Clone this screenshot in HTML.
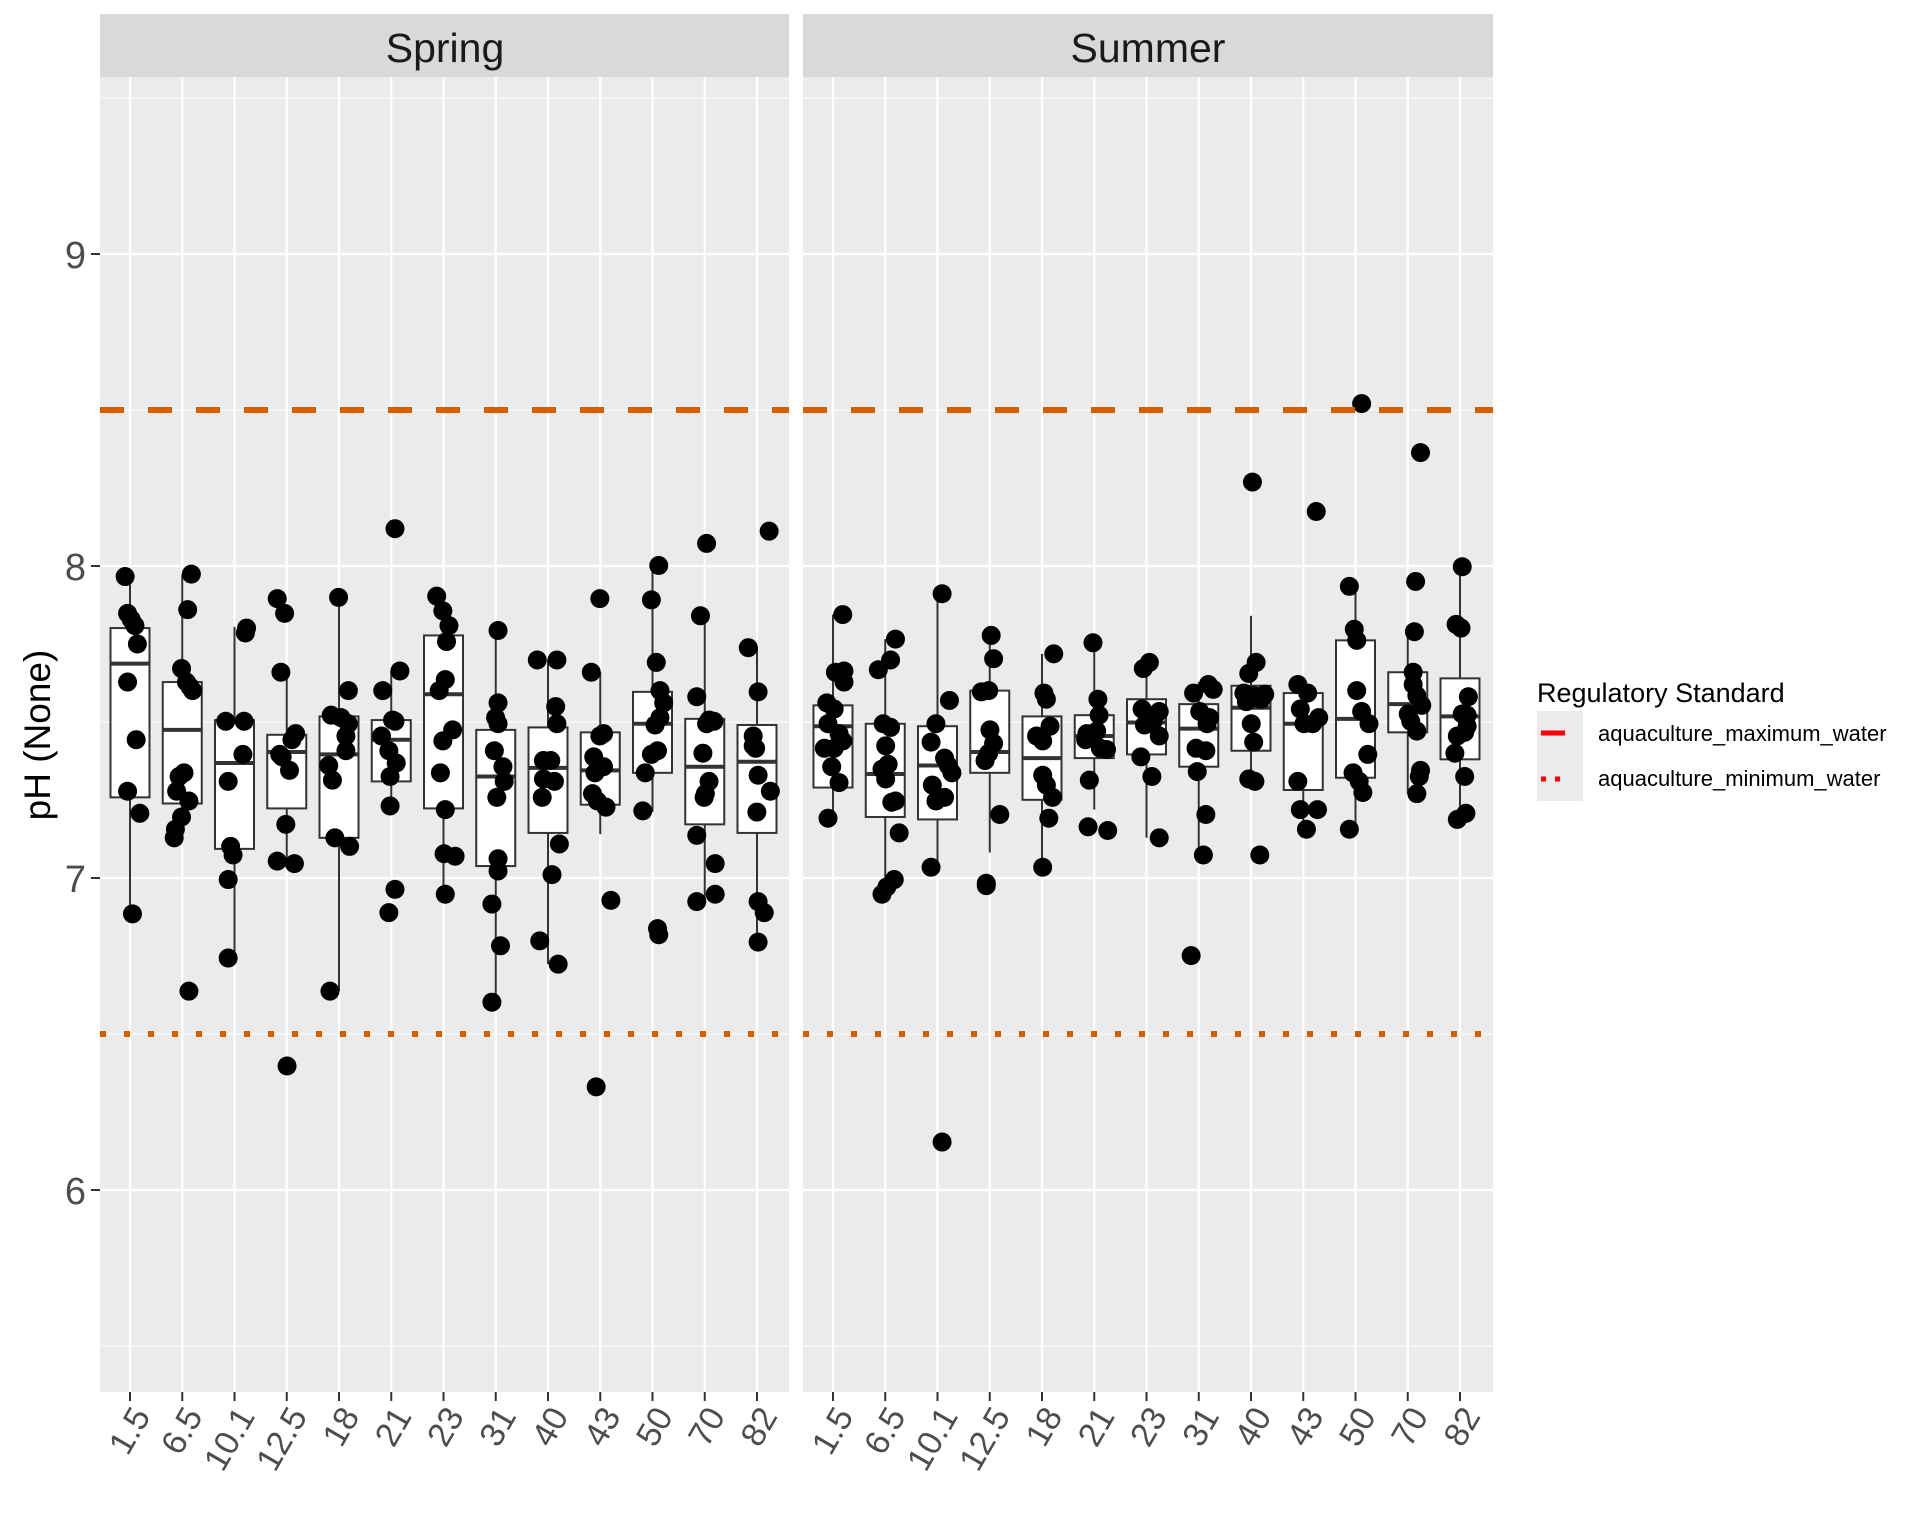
<!DOCTYPE html>
<html><head><meta charset="utf-8"><style>
html,body{margin:0;padding:0;background:#fff;}
svg{display:block;font-family:"Liberation Sans",Arial,sans-serif;}
</style></head><body>
<svg id="s" width="1920" height="1536" viewBox="0 0 1920 1536" xmlns="http://www.w3.org/2000/svg">
<rect x="0" y="0" width="1920" height="1536" fill="#fff"/>
<g id="panels"></g>
<rect x="100" y="14" width="689" height="63" fill="#D9D9D9"/>
<rect x="803" y="14" width="690" height="63" fill="#D9D9D9"/>
<text x="445" y="62" font-size="41" text-anchor="middle" fill="#1A1A1A">Spring</text>
<text x="1148" y="62" font-size="41" text-anchor="middle" fill="#1A1A1A">Summer</text>
<g font-size="38" fill="#4D4D4D" text-anchor="end">
<text x="86" y="268">9</text>
<text x="86" y="580">8</text>
<text x="86" y="892">7</text>
<text x="86" y="1204">6</text>
</g>
<g stroke="#333" stroke-width="2">
<line x1="91" y1="254" x2="100" y2="254"/><line x1="91" y1="566" x2="100" y2="566"/>
<line x1="91" y1="878" x2="100" y2="878"/><line x1="91" y1="1190" x2="100" y2="1190"/>
</g>
<text transform="translate(50,735) rotate(-90)" font-size="37" text-anchor="middle" fill="#000">pH (None)</text>
<g id="xlabs" font-size="34" fill="#4D4D4D"></g>
<text x="1537" y="702" font-size="27" fill="#000">Regulatory Standard</text>
<rect x="1537" y="711" width="46" height="90" fill="#EBEBEB"/>
<line x1="1541" y1="733" x2="1565" y2="733" stroke="#FF0000" stroke-width="5"/>
<line x1="1541" y1="779" x2="1566" y2="779" stroke="#FF0000" stroke-width="5" stroke-dasharray="5,9"/>
<text x="1598" y="741" font-size="22" fill="#000">aquaculture_maximum_water</text>
<text x="1598" y="786" font-size="22" fill="#000">aquaculture_minimum_water</text>
</svg>
<script>
const NS="http://www.w3.org/2000/svg";
const S=1.2267;
const g=document.getElementById('panels');
function el(t,a,p){const e=document.createElementNS(NS,t);for(const k in a)e.setAttribute(k,a[k]);(p||g).appendChild(e);return e;}
const Y=v=>566-(v-8)*312;
const labels=["1.5","6.5","10.1","12.5","18","21","23","31","40","43","50","70","82"];
const panels=[{x0:100,x1:789,t0:130},{x0:803,x1:1493,t0:833}];
const sp=52.25;
const D=[
[[512,541,650,468,745],[[102,470],[104,500],[107,505],[110,510],[112,525],[104,556],[111,603],[114,663],[104,645],[108,745]]],
[[556,595,655,468,683],[[156,468],[153,497],[148,545],[152,556],[155,560],[157,563],[146,633],[144,645],[150,630],[154,653],[148,666],[143,676],[142,683],[154,808]]],
[[587,622,692,511,782],[[184,588],[199,588],[201,512],[200,516],[186,637],[188,690],[190,697],[186,717],[186,781],[198,615]]],
[[599,613,659,543,704],[[226,488],[232,500],[229,548],[241,598],[238,603],[228,615],[236,628],[230,617],[233,672],[226,702],[240,704],[234,869]]],
[[584,615,683,487,808],[[276,487],[270,583],[282,600],[284,590],[268,624],[271,636],[282,612],[273,683],[285,690],[284,563],[269,808],[278,585]]],
[[587,603,637,547,663],[[322,431],[326,547],[312,563],[322,588],[320,587],[317,612],[323,622],[318,633],[318,657],[322,725],[317,744],[311,600]]],
[[518,566,659,486,729],[[356,486],[361,498],[366,510],[364,523],[363,554],[358,563],[369,595],[361,604],[359,630],[363,660],[362,696],[371,698],[363,729]]],
[[595,633,706,514,818],[[406,514],[406,573],[404,585],[406,590],[403,612],[410,625],[411,637],[405,650],[406,700],[406,710],[401,737],[408,771],[401,817]]],
[[593,626,679,538,786],[[438,538],[454,538],[453,576],[454,590],[443,620],[443,635],[449,620],[452,637],[442,650],[456,688],[450,713],[440,767],[455,786]]],
[[597,628,656,548,680],[[489,488],[482,548],[489,600],[492,598],[484,617],[485,630],[492,625],[483,647],[494,658],[487,653],[498,734],[486,886]]],
[[564,590,630,462,662],[[537,461],[531,489],[535,540],[538,563],[541,573],[538,585],[534,591],[536,612],[531,615],[526,630],[524,661],[536,757],[537,762]]],
[[586,625,672,502,736],[[576,443],[571,502],[568,568],[578,587],[582,588],[576,590],[573,614],[578,637],[574,650],[575,647],[568,681],[583,704],[583,729],[568,735]]],
[[591,621,679,527,768],[[627,433],[610,528],[618,564],[614,600],[616,610],[618,632],[628,645],[617,662],[618,735],[623,744],[618,768],[614,608]]],
[[575,592,642,501,667],[[687,501],[681,548],[688,556],[674,573],[680,578],[675,590],[684,598],[672,610],[680,610],[687,604],[678,625],[684,638],[675,667],[688,547]]],
[[590,631,666,521,729],[[730,521],[726,538],[716,546],[720,590],[726,593],[722,608],[724,623],[719,627],[722,635],[730,653],[727,654],[733,679],[729,717],[723,723],[719,729]]],
[[592,624,668,484,707],[[768,484],[774,571],[763,590],[759,605],[770,618],[773,624],[776,630],[760,640],[770,650],[763,653],[759,707],[768,931]]],
[[563,613,630,518,695],[[808,518],[800,564],[806,563],[810,537],[807,595],[810,606],[803,620],[806,614],[815,664],[804,722],[804,720]]],
[[584,618,652,533,707],[[859,533],[851,565],[853,570],[845,600],[856,592],[850,632],[853,640],[858,650],[855,667],[850,707],[850,604]]],
[[583,600,618,524,660],[[891,524],[895,570],[896,583],[894,596],[885,603],[897,610],[902,611],[888,636],[887,674],[903,677],[886,598]]],
[[570,589,615,540,683],[[937,540],[932,545],[931,578],[933,591],[940,588],[945,580],[945,600],[930,617],[939,633],[945,683]]],
[[574,594,625,556,697],[[973,565],[985,558],[989,562],[978,580],[984,590],[986,585],[975,610],[983,612],[976,629],[983,664],[981,697],[971,779]]],
[[559,577,612,502,643],[[1021,393],[1018,549],[1024,540],[1014,565],[1022,567],[1028,570],[1031,566],[1020,590],[1022,605],[1018,635],[1023,637],[1027,697],[1016,572]]],
[[565,590,644,554,676],[[1073,417],[1058,558],[1066,565],[1060,578],[1070,590],[1075,585],[1063,590],[1058,637],[1060,660],[1074,660],[1065,676]]],
[[522,586,634,478,676],[[1110,329],[1100,478],[1104,513],[1106,522],[1106,563],[1110,580],[1116,590],[1115,615],[1103,630],[1108,637],[1111,646],[1100,676]]],
[[548,574,597,512,647],[[1158,369],[1154,474],[1153,515],[1152,548],[1152,558],[1155,567],[1159,575],[1148,582],[1150,588],[1155,596],[1158,628],[1157,633],[1155,647]]],
[[553,584,619,462,666],[[1192,462],[1187,509],[1191,512],[1197,568],[1192,582],[1196,592],[1188,600],[1194,597],[1186,614],[1194,633],[1195,663],[1188,668],[1196,583]]]
];
const xl=document.getElementById('xlabs');
panels.forEach((p,pi)=>{
  el('rect',{x:p.x0,y:77,width:p.x1-p.x0,height:1315,fill:'#EBEBEB'});
  for(let v=5.5;v<9.6;v+=1) el('line',{x1:p.x0,x2:p.x1,y1:Y(v),y2:Y(v),stroke:'#fff','stroke-width':1.1});
  for(let v=6;v<=9;v++) el('line',{x1:p.x0,x2:p.x1,y1:Y(v),y2:Y(v),stroke:'#fff','stroke-width':2.2});
  for(let i=0;i<13;i++){const x=p.t0+i*sp;
    el('line',{x1:x,x2:x,y1:77,y2:1392,stroke:'#fff','stroke-width':2.2});
    el('line',{x1:x,x2:x,y1:1392,y2:1401,stroke:'#333','stroke-width':2});
    const t=el('text',{transform:`translate(${x+11},${1410}) rotate(-60)`,'text-anchor':'end',dy:'0.35em'},xl);t.textContent=labels[i];
  }
  for(let i=0;i<13;i++){
    const d=D[pi*13+i];const x=p.t0+i*sp;const b=d[0].map(v=>v*S);
    el('line',{x1:x,x2:x,y1:b[3],y2:b[0],stroke:'#333','stroke-width':2});
    el('line',{x1:x,x2:x,y1:b[2],y2:b[4],stroke:'#333','stroke-width':2});
    el('rect',{x:x-19.5,y:b[0],width:39,height:b[2]-b[0],fill:'#fff',stroke:'#333','stroke-width':2});
    el('line',{x1:x-19.5,x2:x+19.5,y1:b[1],y2:b[1],stroke:'#333','stroke-width':4});
  }
  for(let i=0;i<13;i++){
    D[pi*13+i][1].forEach(q=>el('ellipse',{cx:q[0]*S,cy:q[1]*S,rx:9.5,ry:9.5,fill:'#000'}));
  }
  el('line',{x1:p.x0,x2:p.x1,y1:Y(8.5),y2:Y(8.5),stroke:'#D55E00','stroke-width':6,'stroke-dasharray':'24,24'});
  el('line',{x1:p.x0,x2:p.x1,y1:Y(6.5),y2:Y(6.5),stroke:'#D55E00','stroke-width':6,'stroke-dasharray':'6,18'});
});
</script>
</body></html>
